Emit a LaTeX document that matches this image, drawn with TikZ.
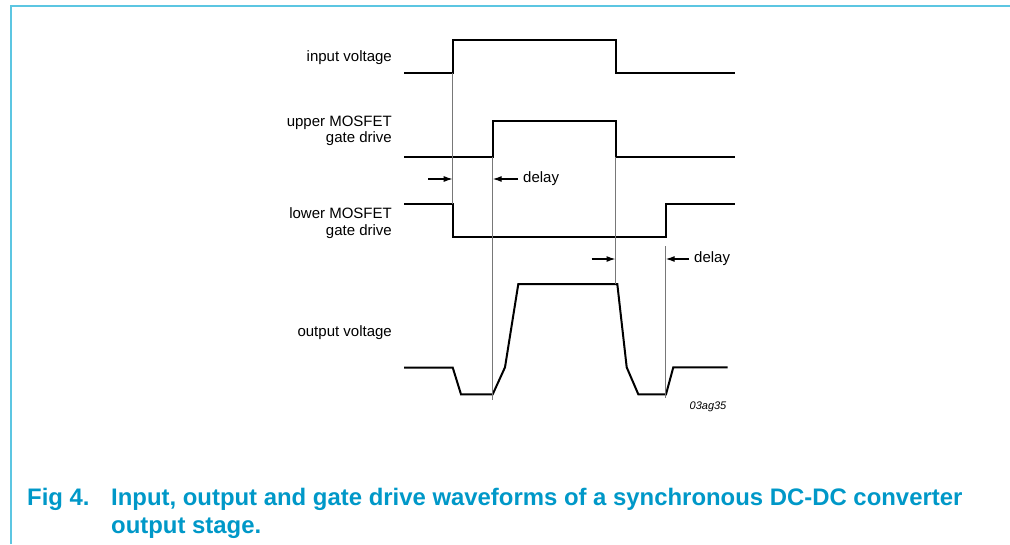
\documentclass[tikz,border=0pt]{standalone}
\usepackage{fontspec}
\setmainfont{Liberation Sans}
\usepackage{tikz}
\usetikzlibrary{arrows.meta, positioning, calc}
\usepackage{xcolor}
\definecolor{framecyan}{RGB}{92,198,226}
\definecolor{captionblue}{RGB}{0,152,200}
\definecolor{guidegray}{RGB}{120,120,120}

\begin{document}
\begin{tikzpicture}[x=1pt, y=-1pt,
    wave/.style={line width=2pt, line join=miter},
    guide/.style={guidegray, line width=1.5pt},
    dly/.style={line width=1.2pt, -{Latex[length=9pt,width=6pt]}},
    lbl/.style={font=\fontsize{15}{16.5}\selectfont, align=right, anchor=east, inner sep=0pt},
    captext/.style={font=\bfseries\fontsize{23.9}{28.5}\selectfont, captionblue, anchor=base west, inner sep=0pt}]
  \useasboundingbox (0,0) rectangle (1010,544);
  % frame
  \draw[framecyan, line width=2pt] (11,544) -- (11,6) -- (1012,6);

  % switching instants
  \coordinate (t1) at (452.7,0);
  \coordinate (t2) at (492.7,0);
  \coordinate (t3) at (615.5,0);
  \coordinate (t4) at (665.7,0);

  % labels
  \node[lbl] (lblin) at (392,58) {input voltage};
  \node[lbl] (lblup) at (392,131) {upper MOSFET\\gate drive};
  \node[lbl] (lbllow) at (392,223) {lower MOSFET\\gate drive};
  \node[lbl] (lblout) at (392,333) {output voltage};

  % waveforms
  \draw[wave] (404,72.7) -- (t1 |- 0,72.7) -- (t1 |- 0,40) -- (t3 |- 0,40) -- (t3 |- 0,72.7) -- (735,72.7);
  \draw[wave] (404,156.7) -- (t2 |- 0,156.7) -- (t2 |- 0,121) -- (t3 |- 0,121) -- (t3 |- 0,156.7) -- (735,156.7);
  \draw[wave] (404,203.7) -- (t1 |- 0,203.7) -- (t1 |- 0,236.7) -- (t4 |- 0,236.7) -- (t4 |- 0,203.7) -- (735,203.7);
  \draw[wave] (404,367.5) -- (452.7,367.5) -- (461,394.3) -- (492.7,394.3) -- (505,367.3)
    -- (518.3,284) -- (617.3,284) -- (626.7,367.3) -- (638.3,394.3) -- (666,394.3)
    -- (673.3,367.3) -- (727.7,367.3);

  % guide lines
  \draw[guide] (t1 |- 0,72.7) -- (t1 |- 0,203.7);
  \draw[guide] (t2 |- 0,156.7) -- (t2 |- 0,400);
  \draw[guide] (t3 |- 0,156.7) -- (t3 |- 0,284);
  \draw[guide] (t4 |- 0,246) -- (t4 |- 0,398);

  % delay markers
  \node[lbl, anchor=west] (delayA) at (523,179) {delay};
  \node[lbl, anchor=west] (delayB) at (694,259) {delay};
  \coordinate (inA) at (428,179);
  \coordinate (inB) at (591.7,259);
  \draw[dly] (inA) -- (t1 |- inA);
  \draw[dly] (delayA.west) ++(-5,0) -- (t2 |- delayA);
  \draw[dly] (inB) -- (t3 |- inB);
  \draw[dly] (delayB.west) ++(-5,0) -- (t4 |- delayB);

  \node[font=\itshape\fontsize{11}{12}\selectfont, inner sep=0pt] (code) at (708,407) {03ag35};

  % caption
  \node[captext] (fignum) at (27,505) {Fig 4.};
  \node[captext] (capA) at (111,505) {Input, output and gate drive waveforms of a synchronous DC-DC converter};
  \node[captext] (capB) at (111,533.5) {output stage.};
\end{tikzpicture}
\end{document}
